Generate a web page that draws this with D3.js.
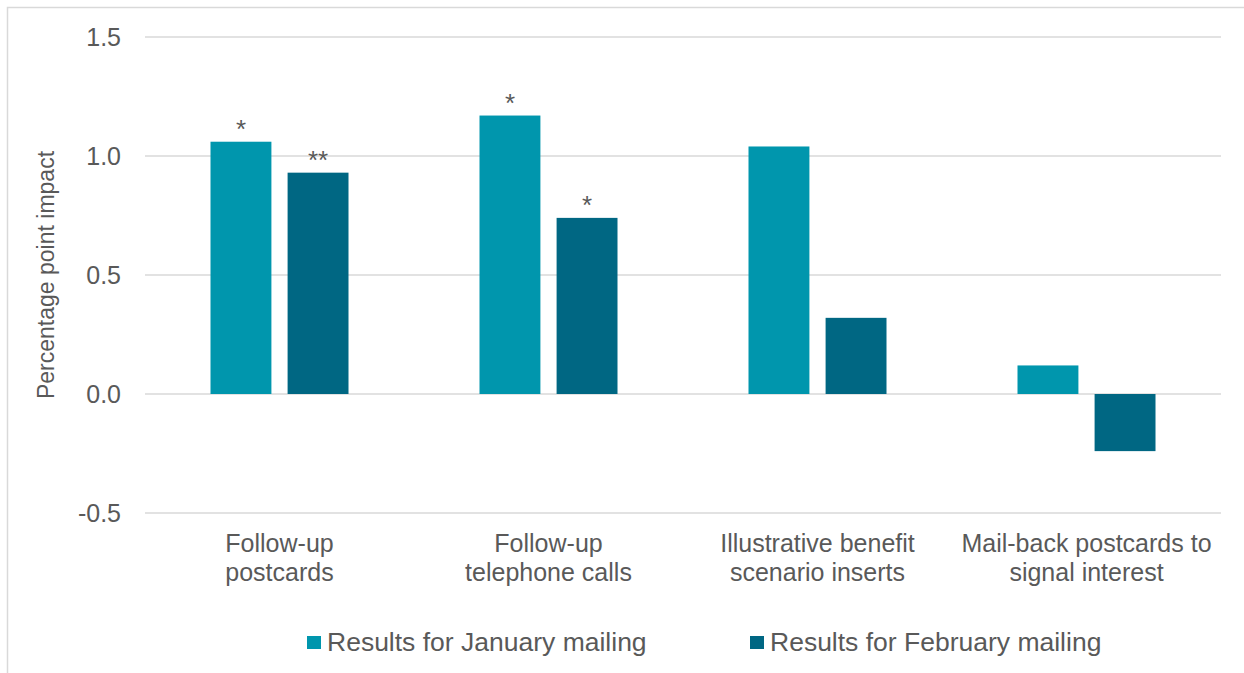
<!DOCTYPE html>
<html>
<head>
<meta charset="utf-8">
<script src="https://cdn.jsdelivr.net/npm/d3@7"></script>
<style>
  body { margin: 0; background: #fff; }
  text { font-family: "Liberation Sans", Arial, sans-serif; fill: #595959; }
</style>
</head>
<body>
<div id="chart"></div>
<script>
// data ------------------------------
const categories = [
  ['Follow-up', 'postcards'],
  ['Follow-up', 'telephone calls'],
  ['Illustrative benefit', 'scenario inserts'],
  ['Mail-back postcards to', 'signal interest']
];
const seriesNames = ['Results for January mailing', 'Results for February mailing'];
const janValues = [1.06, 1.17, 1.04, 0.12];
const febValues = [0.93, 0.74, 0.32, -0.24];
const janStars = ['*', '*', '', ''];
const febStars = ['**', '*', '', ''];
const yTicks = [-0.5, 0, 0.5, 1.0, 1.5];
const colors = ['#0096ad', '#006783'];

const W = 1244, H = 673;
const margin = { top: 37, right: 23, bottom: 160, left: 145 };
const width = W - margin.left - margin.right;
const height = H - margin.top - margin.bottom;

const svg = d3.select('#chart').append('svg')
  .attr('width', W).attr('height', H);

// outer frame (runs off the right and bottom)
svg.append('rect')
  .attr('x', 7.5).attr('y', 7.5)
  .attr('width', W + 20).attr('height', H + 20)
  .attr('fill', 'none').attr('stroke', '#d9d9d9').attr('stroke-width', 1.5);

const g = svg.append('g').attr('transform', `translate(${margin.left},${margin.top})`);

const x0 = d3.scaleBand().domain(d3.range(categories.length)).range([0, width]).paddingInner(0.487).paddingOuter(0.2435);
const x1 = d3.scaleBand().domain([0, 1]).range([0, x0.bandwidth()]).paddingInner(0.21);
const y = d3.scaleLinear().domain([-0.5, 1.5]).range([height, 0]);

// gridlines
g.selectAll('.grid').data(yTicks).enter().append('line')
  .attr('x1', 0).attr('x2', width)
  .attr('y1', d => y(d)).attr('y2', d => y(d))
  .attr('stroke', '#d9d9d9').attr('stroke-width', 1.5);

// y axis labels (plain hyphen for the minus, like the original)
const fmt = d => d3.format('.1f')(d).replace('\u2212', '-');
const yAxis = g.append('g').call(d3.axisLeft(y).tickValues(yTicks).tickFormat(fmt).tickSize(0).tickPadding(24));
yAxis.select('.domain').remove();
yAxis.selectAll('text').style('font-size', '25px').attr('fill', '#595959').attr('dy', '0.35em');

// y title
svg.append('text')
  .attr('transform', `translate(54,${margin.top + y(0.5)}) rotate(-90)`)
  .attr('text-anchor', 'middle')
  .style('font-size', '23px')
  .text('Percentage point impact');

// bars
const seriesData = [janValues, febValues];
const starsData = [janStars, febStars];
seriesData.forEach((vals, s) => {
  g.selectAll('.bar' + s).data(vals).enter().append('rect')
    .attr('x', (d, i) => x0(i) + x1(s))
    .attr('y', d => y(Math.max(0, d)))
    .attr('width', x1.bandwidth())
    .attr('height', d => Math.abs(y(d) - y(0)))
    .attr('fill', colors[s]);
  g.selectAll('.star' + s).data(vals).enter().append('text')
    .attr('x', (d, i) => x0(i) + x1(s) + x1.bandwidth() / 2)
    .attr('y', d => y(d) - 4)
    .attr('text-anchor', 'middle')
    .style('font-size', '26px')
    .attr('fill', '#404040')
    .text((d, i) => starsData[s][i]);
});

// category labels
categories.forEach((lines, i) => {
  const cx = x0(i) + x0.bandwidth() / 2;
  const t = g.append('text')
    .attr('x', cx)
    .attr('y', height + 39)
    .attr('text-anchor', 'middle')
    .style('font-size', '25px');
  lines.forEach((l, j) => {
    t.append('tspan').attr('x', cx).attr('dy', j === 0 ? 0 : 29).text(l);
  });
});

// legend
const legendX = [307, 750];
seriesNames.forEach((name, s) => {
  svg.append('rect')
    .attr('x', legendX[s]).attr('y', 636)
    .attr('width', 14).attr('height', 13)
    .attr('fill', colors[s]);
  svg.append('text')
    .attr('x', legendX[s] + 20).attr('y', 651)
    .style('font-size', '26.5px')
    .text(name);
});
</script>
</body>
</html>
